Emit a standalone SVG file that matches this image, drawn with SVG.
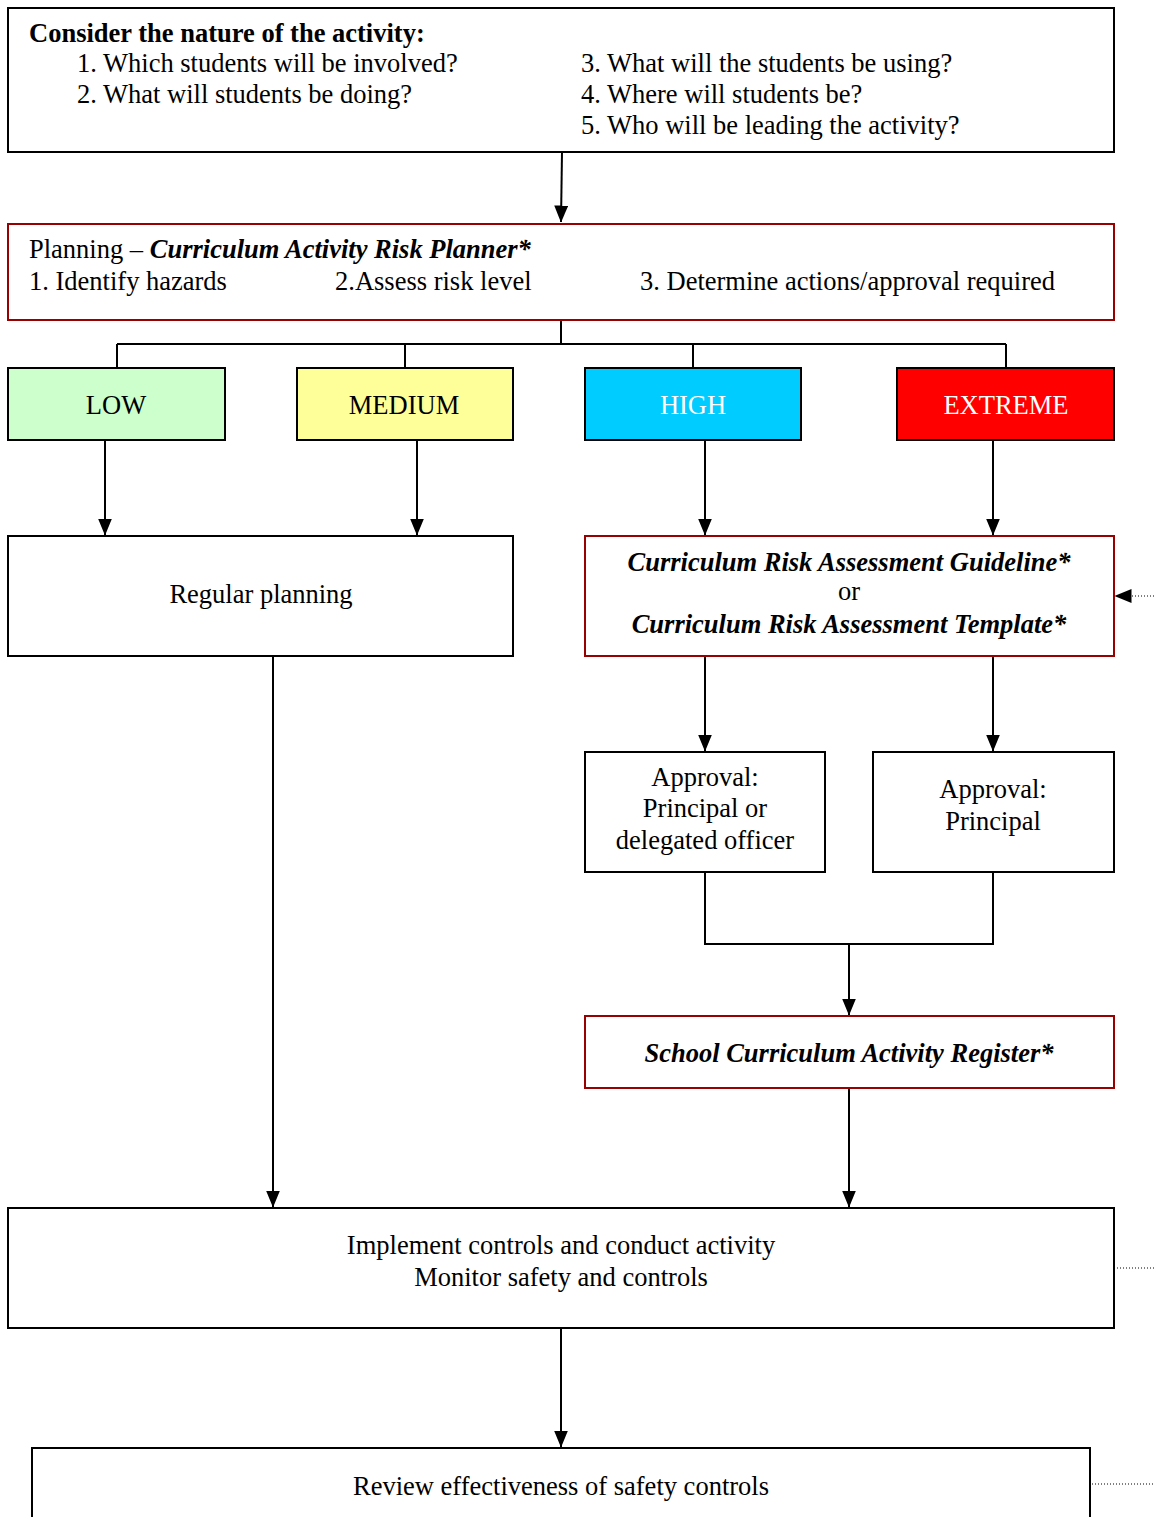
<svg xmlns="http://www.w3.org/2000/svg" width="1154" height="1517" viewBox="0 0 1154 1517">
<style>
  text { font-family: "Liberation Serif", "Times New Roman", serif; font-size: 26.5px; fill: #000; }
  .b { font-weight: bold; }
  .bi { font-weight: bold; font-style: italic; }
  .c { text-anchor: middle; }
  .w { fill: #fff; }
  .box { fill: #fff; stroke: #000; stroke-width: 2; }
  .red { fill: #fff; stroke: #990000; stroke-width: 2; }
  .line { fill: none; stroke: #000; stroke-width: 2; }
  .arrow { fill: none; stroke: #000; stroke-width: 2; marker-end: url(#ah); }
  .dot { fill: none; stroke: #000; stroke-width: 1; stroke-dasharray: 1 2; }
  .dotarrow { fill: none; stroke: #000; stroke-width: 1; stroke-dasharray: 1 2; marker-end: url(#ah); }
</style>
<defs>
  <marker id="ah" markerUnits="userSpaceOnUse" markerWidth="17" markerHeight="14" viewBox="0 0 17 14" refX="16.5" refY="7" orient="auto">
    <path d="M0,0 L17,7 L0,14 Z" fill="#000"/>
  </marker>
</defs>

<g id="connectors">
  <path class="arrow" d="M562,152 L561,222"/>
  <path class="line" d="M561,320 V344 M117,344 H1006 M117,344 V368 M405,344 V368 M693,344 V368 M1006,344 V368"/>
  <path class="arrow" d="M105,440 V535"/>
  <path class="arrow" d="M417,440 V535"/>
  <path class="arrow" d="M705,440 V535"/>
  <path class="arrow" d="M993,440 V535"/>
  <path class="arrow" d="M705,656 V751"/>
  <path class="arrow" d="M993,656 V751"/>
  <path class="line" d="M705,872 V944 H993 V872"/>
  <path class="arrow" d="M849,944 V1015"/>
  <path class="arrow" d="M849,1088 V1207"/>
  <path class="arrow" d="M273,656 V1207"/>
  <path class="arrow" d="M561,1328 V1447"/>
  <path class="dotarrow" d="M1154,596 H1115"/>
  <path class="dot" d="M1117,1268 H1154"/>
  <path class="dot" d="M1092,1484 H1154"/>
</g>

<g id="consider">
  <rect class="box" x="8" y="8" width="1106" height="144"/>
  <text class="b" x="29" y="42">Consider the nature of the activity:</text>
  <text x="77" y="72">1. Which students will be involved?</text>
  <text x="77" y="103">2. What will students be doing?</text>
  <text x="581" y="72">3. What will the students be using?</text>
  <text x="581" y="103">4. Where will students be?</text>
  <text x="581" y="134">5. Who will be leading the activity?</text>
</g>

<g id="planning">
  <rect class="red" x="8" y="224" width="1106" height="96"/>
  <text x="29" y="258">Planning – <tspan class="bi">Curriculum Activity Risk Planner*</tspan></text>
  <text x="29" y="290">1. Identify hazards</text>
  <text x="335" y="290">2.Assess risk level</text>
  <text x="640" y="290">3. Determine actions/approval required</text>
</g>

<g id="low">
  <rect x="8" y="368" width="217" height="72" fill="#CCFFCC" stroke="#000" stroke-width="2"/>
  <text class="c" x="116" y="414">LOW</text>
</g>
<g id="medium">
  <rect x="297" y="368" width="216" height="72" fill="#FFFF99" stroke="#000" stroke-width="2"/>
  <text class="c" x="404" y="414">MEDIUM</text>
</g>
<g id="high">
  <rect x="585" y="368" width="216" height="72" fill="#00CCFF" stroke="#000" stroke-width="2"/>
  <text class="c w" x="693" y="414">HIGH</text>
</g>
<g id="extreme">
  <rect x="897" y="368" width="217" height="72" fill="#FF0000" stroke="#000" stroke-width="2"/>
  <text class="c w" x="1006" y="414">EXTREME</text>
</g>

<g id="regular">
  <rect class="box" x="8" y="536" width="505" height="120"/>
  <text class="c" x="261" y="603">Regular planning</text>
</g>

<g id="cra">
  <rect class="red" x="585" y="536" width="529" height="120"/>
  <text class="c bi" x="849" y="571">Curriculum Risk Assessment Guideline*</text>
  <text class="c" x="849" y="600">or</text>
  <text class="c bi" x="849" y="633">Curriculum Risk Assessment Template*</text>
</g>

<g id="approval1">
  <rect class="box" x="585" y="752" width="240" height="120"/>
  <text class="c" x="705" y="786">Approval:</text>
  <text class="c" x="705" y="817">Principal or</text>
  <text class="c" x="705" y="849">delegated officer</text>
</g>
<g id="approval2">
  <rect class="box" x="873" y="752" width="241" height="120"/>
  <text class="c" x="993" y="798">Approval:</text>
  <text class="c" x="993" y="830">Principal</text>
</g>

<g id="register">
  <rect class="red" x="585" y="1016" width="529" height="72"/>
  <text class="c bi" x="849" y="1062">School Curriculum Activity Register*</text>
</g>

<g id="implement">
  <rect class="box" x="8" y="1208" width="1106" height="120"/>
  <text class="c" x="561" y="1254">Implement controls and conduct activity</text>
  <text class="c" x="561" y="1286">Monitor safety and controls</text>
</g>

<g id="review">
  <rect class="box" x="32" y="1448" width="1058" height="120"/>
  <text class="c" x="561" y="1495">Review effectiveness of safety controls</text>
</g>
</svg>
